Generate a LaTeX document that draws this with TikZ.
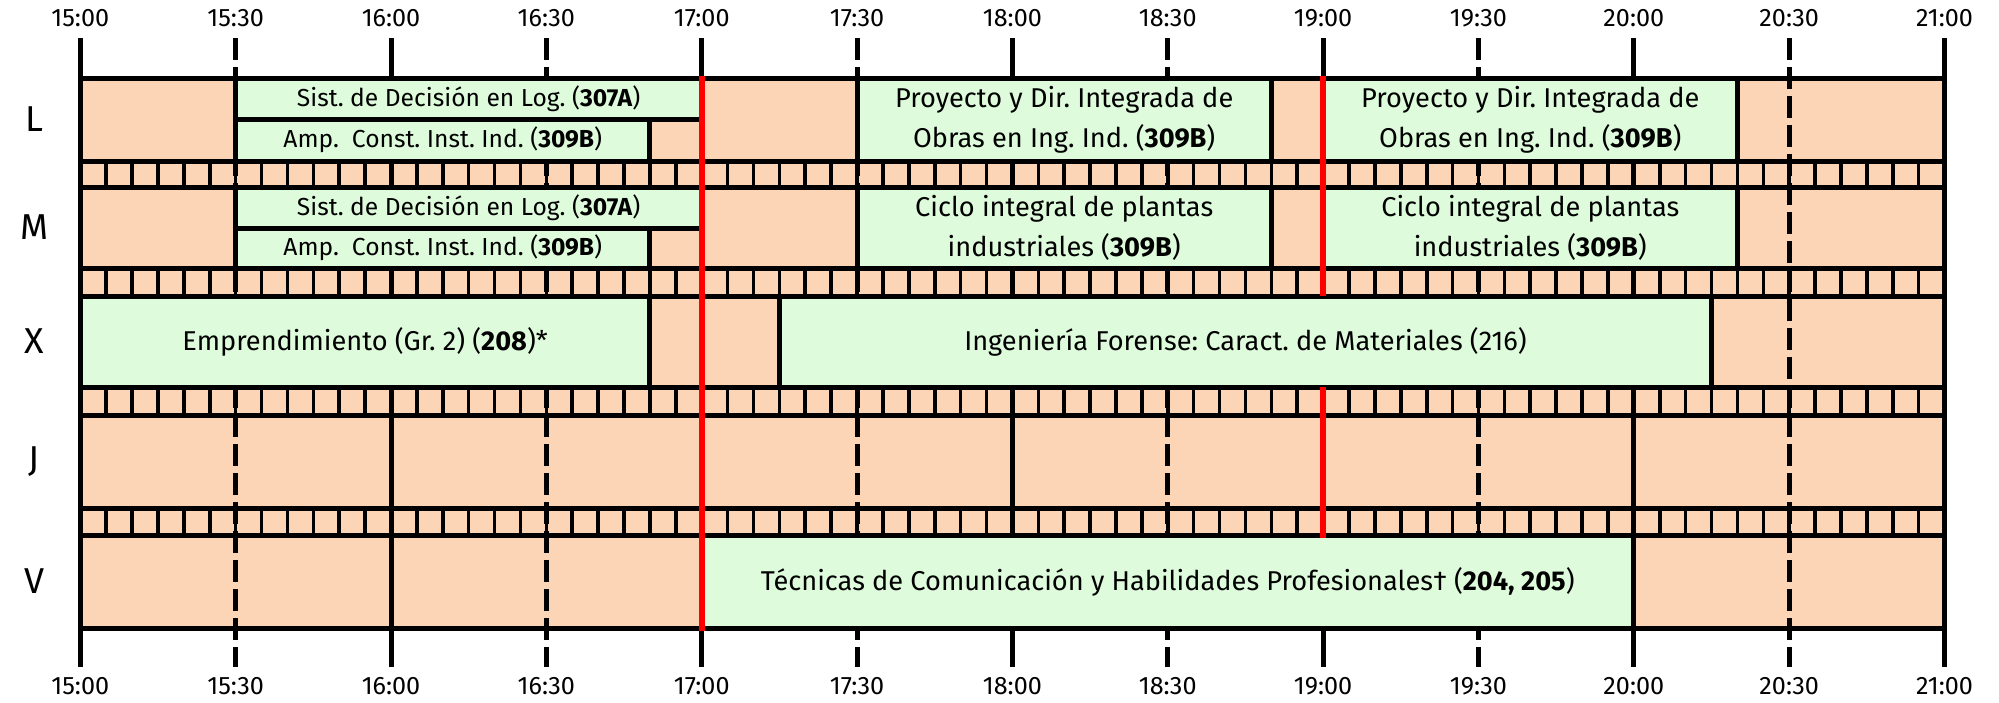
\documentclass[tikz,border=0pt]{standalone}
\usepackage{fontspec}
\setmainfont{Fira Sans}
\definecolor{libre}{RGB}{251,213,181}
\definecolor{verde}{RGB}{222,251,220}
\frenchspacing

\begin{document}
\begin{tikzpicture}[x=2.589pt,y=-0.5pt,
		linea/.style={line width=2.5pt},
		media/.style={line width=2.5pt, dash pattern=on 11pt off 3.5pt},
		marca/.style={line width=1.8pt},
		clase/.style={fill=verde, draw=black, line width=2.5pt},
		hito/.style={red, line width=3.2pt},
		texto/.style={font=\fontsize{13.6}{20}\selectfont, align=center},
		subtexto/.style={font=\fontsize{12.3}{15}\selectfont},
		hora/.style={font=\fontsize{12.6}{15}\selectfont},
		dia/.style={font=\fontsize{18}{20}\selectfont}]
		\useasboundingbox (-15.51,0) rectangle (370.52,702);
		\fill[libre] (0,78) rectangle (360,628);
		\foreach \ya/\yb in {161/187,268/296,387/415,508/535}
			\foreach \m in {5,10,...,355}
				\draw[marca] (\m,\ya) -- (\m,\yb);
		\foreach \m in {0,60,...,360}
			\draw[linea] (\m,38) -- (\m,667);
		\foreach \m in {30,90,...,330}
			\draw[media] (\m,38) -- (\m,667);
		\foreach \y in {78,161,187,268,296,387,415,508,535,628}
			\draw[linea] (0,\y) -- (360,\y);
		% L y M
		\foreach \d/\ya/\yb/\yc in {L/78/119/161, M/187/228/268}{
			\draw[clase] (30,\ya) rectangle (120,\yb);
			\draw[clase] (30,\yb) rectangle (110,\yc);
			\draw[clase] (150,\ya) rectangle (230,\yc);
			\draw[clase] (240,\ya) rectangle (320,\yc);
			\node[subtexto] (sist\d) at (75,{(\ya+\yb)/2}) {Sist. de Decisión en Log. (\textbf{307A})};
			\node[subtexto] (amp\d) at (70,{(\yb+\yc)/2}) {Amp.\ \ Const. Inst. Ind. (\textbf{309B})};
		}
		\node[texto] (proyA) at (190,119.5) {Proyecto y Dir. Integrada de\\Obras en Ing. Ind. (\textbf{309B})};
		\node[texto] (proyB) at (280,119.5) {Proyecto y Dir. Integrada de\\Obras en Ing. Ind. (\textbf{309B})};
		\node[texto] (cicloA) at (190,227.5) {Ciclo integral de plantas\\industriales (\textbf{309B})};
		\node[texto] (cicloB) at (280,227.5) {Ciclo integral de plantas\\industriales (\textbf{309B})};
		% X
		\draw[clase] (0,296) rectangle (110,387);
		\draw[clase] (135,296) rectangle (315,387);
		\node[texto] (empr) at (55,341.5) {Emprendimiento (Gr. 2) (\textbf{208})*};
		\node[texto] (foren) at (225,341.5) {Ingeniería Forense: Caract. de Materiales (216)};
		% V
		\draw[clase] (120,535) rectangle (300,628);
		\node[texto] (tecn) at (210,581.5) {Técnicas de Comunicación y Habilidades Profesionales\textdagger{} (\textbf{204, 205})};
		\draw[hito] (120,75.5) -- (120,630.5);
		\draw[hito] (240,75.5) -- (240,296);
		\draw[hito] (240,387) -- (240,537.5);
		\foreach \m/\t in {0/15:00,30/15:30,60/16:00,90/16:30,120/17:00,150/17:30,180/18:00,210/18:30,240/19:00,270/19:30,300/20:00,330/20:30,360/21:00}{
			\node[hora] (arriba\m) at (\m,18) {\t};
			\node[hora] (abajo\m) at (\m,686) {\t};
		}
		\foreach \d/\y in {L/119.5,M/227.5,X/341.5,J/461.5,V/581.5}
			\node[dia] (dia\d) at (-8.94,\y) {\d};
	\end{tikzpicture}
\end{document}
